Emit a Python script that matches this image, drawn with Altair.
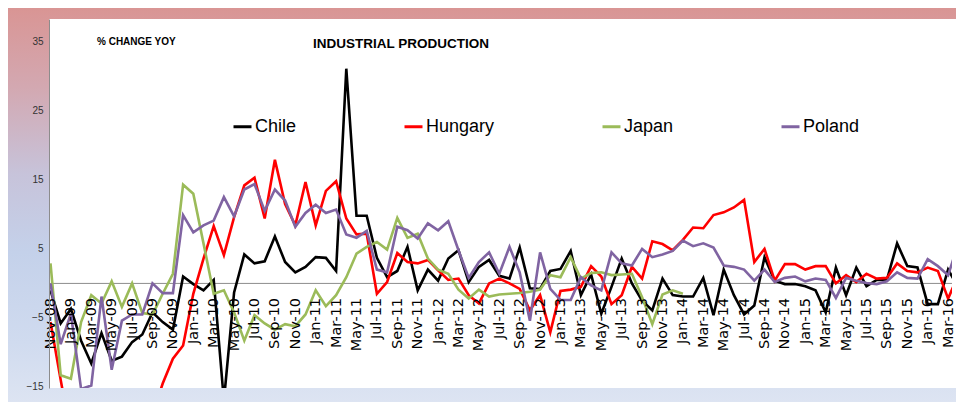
import altair as alt
import pandas as pd

months = pd.date_range("2008-11-01", periods=91, freq="MS").strftime("%b-%y").tolist()

chile = [-1.0, -5.8, -3.7, -8.3, -11.6, -7.2, -11.2, -10.6, -8.5, -7.4, -4.2, -5.6, -6.7, 1.0, -0.1, -1.0,
         0.5, -17.0, -1.3, 4.2, 2.9, 3.2, 6.8, 3.1, 1.6, 2.4, 3.8, 3.7, 1.8, 31.1, 9.8, 9.8,
         3.7, 0.9, 1.8, 5.3, -1.0, 2.0, 0.4, 3.6, 4.8, 0.2, 2.4, 3.4, 1.1, 0.7, 5.2, -0.7,
         -0.8, 1.8, 2.1, 4.7, -1.7, 1.3, -4.4, -0.5, 3.6, 0.0, -2.5, -3.9, 0.7, -1.7, -1.9, -1.9,
         0.8, -4.6, 2.0, -1.7, -4.5, -3.2, 3.8, 0.4, -0.1, -0.1, -0.4, -1.0, -4.2, 2.3, -1.7, 2.3,
         -0.4, 0.5, 0.5, 5.8, 2.5, 2.3, -3.0, -3.0, 2.0, -0.6, -0.3]
hungary = [-5.6, -14.0, -22.0, -25.0, -21.0, -23.0, -22.0, -20.0, -21.0, -19.0, -19.0, -14.5, -10.9, -9.0, -1.5, 3.6,
           8.3, 4.1, 9.6, 14.2, 15.3, 9.4, 17.9, 11.5, 8.4, 14.7, 8.4, 13.4, 14.8, 9.4, 7.1, 7.2,
           -1.5, 0.2, 4.4, 3.1, 2.9, 3.4, 1.9, 0.5, 0.7, -1.7, -2.9, 0.0, 0.7, 0.0, -0.8, -3.9,
           -1.7, -7.1, -1.1, -0.9, -0.5, 2.5, 1.0, -3.0, -1.7, 2.4, 0.7, 6.1, 5.7, 4.8, 6.3, 8.1,
           8.0, 9.9, 10.3, 11.0, 12.1, 3.1, 5.0, 0.4, 2.8, 2.8, 2.0, 2.5, 2.5, 0.0, 1.2, 0.2,
           1.4, 0.7, 0.8, 2.9, 1.8, 1.6, 2.3, 1.8, -2.2, 1.2, 1.0]
japan = [2.9, -13.3, -13.8, -5.6, -1.7, -2.9, 0.3, -3.4, 0.0, -4.3, -4.5, -1.5, 1.4, 14.3, 13.0, 5.8,
         -1.5, -1.0, -4.2, -8.3, -4.6, -5.8, -6.7, -5.9, -6.2, -4.5, -1.0, -3.3, -1.7, 0.9, 4.3, 5.3,
         6.0, 4.9, 9.5, 6.6, 7.2, 3.6, 2.0, 1.4, -0.9, -2.2, -0.9, -1.9, -1.6, -1.5, -1.4, -1.2,
         -0.9, 1.2, 0.9, 3.8, 0.7, 1.5, 1.6, 1.2, 1.3, 1.4, -2.0, -5.9, -1.6, -1.0, -1.5]
poland = [0.0, -8.8, -4.4, -15.3, -14.8, -1.9, -12.5, -5.4, -4.5, -4.5, 0.0, -1.4, -1.4, 9.9, 7.4, 8.4,
          9.1, 12.5, 9.7, 13.6, 14.4, 10.5, 13.6, 12.0, 8.2, 10.2, 11.4, 10.2, 10.7, 7.1, 6.6, 7.6,
          2.0, 1.6, 8.2, 7.7, 6.5, 8.7, 7.7, 9.0, 4.8, 0.8, 3.1, 4.5, 1.4, 5.3, 1.6, -5.4,
          4.5, -0.8, -2.4, -2.4, 0.9, -0.3, -1.0, 4.5, 2.9, 2.6, 5.0, 3.8, 4.2, 4.7, 6.2, 5.4,
          5.8, 5.2, 2.6, 2.4, 2.0, 0.4, 2.0, 0.2, 0.8, 1.0, 0.3, 0.7, 0.5, -2.1, 0.8, 0.4,
          0.05, -0.1, 0.3, 1.6, 0.8, 0.7, 3.5, 2.5, 1.2, 5.7, 0.4]

series = {"Chile": chile, "Hungary": hungary, "Japan": japan, "Poland": poland}
names = ["Chile", "Hungary", "Japan", "Poland"]
colors = ["#000000", "#ff0000", "#9bbb59", "#8064a2"]
y_ticks = [-15, -5, 5, 15, 25, 35]

rows = []
for name in names:
    for i, v in enumerate(series[name]):
        rows.append({"i": i, "month": months[i], "v": v, "country": name})
df = pd.DataFrame(rows)

W, H = 903, 369
PX_PER_MONTH = 10.2
x0 = -0.147
xscale = alt.Scale(domain=[x0, x0 + W / PX_PER_MONTH], nice=False, zero=False)
yscale = alt.Scale(domain=[-15.15, 38.3], nice=False, zero=False)
zero_y = H - (0 + 15.15) / (38.3 + 15.15) * H

NARROW = "Liberation Sans"

label_array = "[" + ",".join("'%s'" % m for m in months) + "]"
xaxis = alt.Axis(values=list(range(0, 89, 2)), labelExpr=label_array + "[datum.value]",
                 labelAngle=270, labelAlign="right", labelBaseline="middle",
                 labelFont="DejaVu Sans", labelFontSize=14.5, labelColor="#000000",
                 labelPadding=14, ticks=False, tickSize=0, domain=False, grid=False,
                 labelOverlap=False, labelBound=False, labelFlush=False, title=None,
                 offset=-(H - zero_y), zindex=2)
yaxis = alt.Axis(values=y_ticks, ticks=False, tickSize=0, domain=True, domainColor="#8c8c8c",
                 domainWidth=1, grid=False, labelFont=NARROW, labelFontSize=10,
                 labelColor="#333333", labelPadding=6, title=None, zindex=2)

bg = alt.Chart(pd.DataFrame({"a": [0]})).mark_rect(
    color=alt.LinearGradient(
        gradient="linear", x1=0, x2=0, y1=0, y2=1,
        stops=[alt.GradientStop(offset=0, color="#d99594"),
               alt.GradientStop(offset=0.2, color="#d3a8b1"),
               alt.GradientStop(offset=0.42, color="#c7c3da"),
               alt.GradientStop(offset=0.62, color="#c4d1ea"),
               alt.GradientStop(offset=0.85, color="#d0dbef"),
               alt.GradientStop(offset=1, color="#dde4f2")]),
    clip=False
).encode(x=alt.value(-41), x2=alt.value(W + 4), y=alt.value(-11), y2=alt.value(H + 14))

plot_bg = alt.Chart(pd.DataFrame({"a": [0]})).mark_rect(color="white", clip=False).encode(
    x=alt.value(0), x2=alt.value(W + 4), y=alt.value(0), y2=alt.value(H))

zero = alt.Chart(pd.DataFrame({"y": [0]})).mark_rule(color="#8c8c8c", strokeWidth=1).encode(
    y=alt.Y("y:Q", scale=yscale, axis=yaxis))

lines = alt.Chart(df).mark_line(strokeWidth=2.6, clip=True).encode(
    x=alt.X("i:Q", scale=xscale, axis=xaxis),
    y=alt.Y("v:Q", scale=yscale, axis=yaxis),
    color=alt.Color("country:N", scale=alt.Scale(domain=names, range=colors),
                    legend=alt.Legend(orient="none", legendX=183, legendY=97, direction="horizontal",
                                      columns=4, columnPadding=101, title=None,
                                      symbolType="stroke", symbolSize=324, symbolStrokeWidth=3,
                                      labelFont=NARROW, labelFontSize=18, labelColor="#000000",
                                      labelOffset=2, labelLimit=300)),
    detail="country:N",
)

sub = alt.Chart(pd.DataFrame({"t": ["% CHANGE YOY"]})).mark_text(
    align="left", baseline="middle", font=NARROW, fontSize=10, fontWeight="bold", color="#000000"
).encode(text="t:N", x=alt.value(48), y=alt.value(23))

title = alt.Chart(pd.DataFrame({"t": ["INDUSTRIAL PRODUCTION"]})).mark_text(
    align="left", baseline="middle", font=NARROW, fontSize=13.5, fontWeight="bold", color="#000000"
).encode(text="t:N", x=alt.value(264), y=alt.value(25))

chart = alt.layer(bg, plot_bg, zero, lines, sub, title).properties(
    width=W, height=H,
    padding={"left": 41, "top": 11, "right": 4, "bottom": 14},
    autosize=alt.AutoSizeParams(type="none"),
).configure_view(stroke=None)

chart.save("out.html", embed_options={"renderer": "svg", "actions": False})
